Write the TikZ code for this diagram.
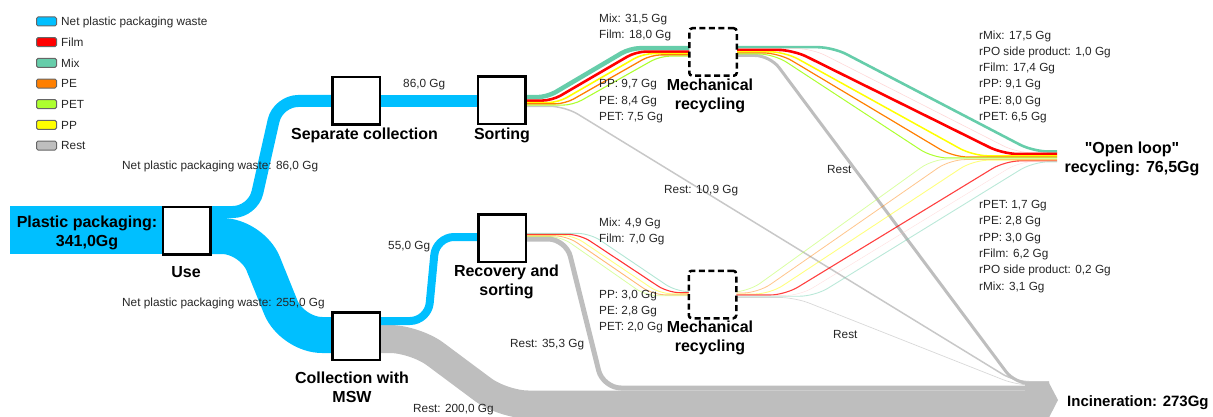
\documentclass[tikz,border=0pt]{standalone}
\usepackage{fontspec}
\setmainfont{Liberation Sans}[Ligatures=TeXOff]
\definecolor{cBlue}{RGB}{0,191,255}
\definecolor{cFilm}{RGB}{255,0,0}
\definecolor{cMix}{RGB}{102,205,170}
\definecolor{cPE}{RGB}{255,127,0}
\definecolor{cPET}{RGB}{173,255,47}
\definecolor{cPP}{RGB}{255,255,0}
\definecolor{cRest}{RGB}{190,190,190}
\definecolor{cPO}{RGB}{255,190,190}
\begin{document}
\begin{tikzpicture}[x=1pt,y=-1pt,
  box/.style={draw=black,line width=2.5pt,fill=white,minimum width=47.5pt,minimum height=47.5pt,inner sep=0pt},
  mechbox/.style={box,dash pattern=on 6pt off 3.5pt,rounded corners=3pt},
  big/.style={font=\fontsize{16}{19}\selectfont\bfseries,align=center,inner sep=0pt},
  bigbase/.style={font=\fontsize{16}{19}\selectfont\bfseries,inner sep=0pt,anchor=base,yshift=-5.7pt},
  small/.style={font=\fontsize{11.8}{16}\selectfont,text=black!85,inner sep=0pt,anchor=base west,yshift=-4.2pt},
  legsw/.style={draw=black!60,line width=1pt,rounded corners=1.5pt,minimum width=20pt,minimum height=9pt,inner sep=0pt},
  fl/.style={line cap=butt,line join=round,rounded corners=#1},
  fl/.default=15pt
]
\useasboundingbox (0,0) rectangle (1213,417);

% ---------- grey rest flows ----------
\draw[fl=25pt,cRest,line width=28pt] (356,339)--(415,339)--(503,404.5)--(1049,404.5);
\draw[fl=18pt,cRest,line width=5pt] (502,239)--(566,239)--(603,388)--(1049,388);
\fill[cRest] (1025,381)--(1048,381)--(1058,400)--(1048,419.5)--(1025,419.5)--cycle;
\draw[fl,cRest!85,line width=1.5pt] (501,106.3)--(565,106.3)--(1015,381.8)--(1049,381.8);
\draw[fl,cRest,line width=3pt] (713,55.5)--(770,55.5)--(1015,383.7)--(1049,383.7);
\draw[fl,cRest,opacity=0.6,line width=0.7pt] (713,297.5)--(795,297.5)--(1017,385.2)--(1049,385.2);

% ---------- blue flows ----------
\draw[cBlue,line width=48pt] (10,230)--(187,230);
\draw[fl=20pt,cBlue,line width=12pt] (187,212)--(253,212)--(278,101)--(356,101);
\draw[fl=30pt,cBlue,line width=36pt] (187,236)--(252,236)--(292,335)--(356,335);
\draw[cBlue,line width=12pt] (356,101)--(502,101);
\draw[fl=18pt,cBlue,line width=8pt] (356,321)--(428,321)--(436,237)--(502,237);

% ---------- sorting -> mechanical recycling (top) ----------
\draw[fl=10pt,cMix,line width=4.5pt] (501,97.2)--(547,97.2)--(630,48.2)--(713,48.2);
\draw[fl=10pt,cFilm,line width=2.6pt] (501,100.6)--(552,100.6)--(636,51.6)--(713,51.6);
\draw[fl=10pt,cPP,line width=1.6pt] (501,102.6)--(558,102.6)--(643,53.6)--(713,53.6);
\draw[fl=10pt,cPE,line width=1.3pt] (501,103.9)--(565,103.9)--(651,54.9)--(713,54.9);
\draw[fl=10pt,cPET,line width=1.1pt] (501,105.1)--(573,105.1)--(660,56.1)--(713,56.1);

% ---------- mechanical recycling (top) -> open loop ----------
\draw[fl,cMix,line width=2.6pt] (713,47.2)--(833,47.2)--(1033,151.5)--(1057,151.5);
\draw[fl,cPO,opacity=0.6,line width=0.6pt] (713,48.6)--(812,48.6)--(1017,152.8)--(1057,152.8);
\draw[fl,cFilm,line width=2.6pt] (713,49.9)--(793,49.9)--(1003,154)--(1057,154);
\draw[fl,cPP,line width=1.5pt] (713,51.8)--(785,51.8)--(973,155.8)--(1057,155.8);
\draw[fl,cPE,line width=1.2pt] (713,53)--(779,53)--(953,157)--(1057,157);
\draw[fl,cPET,line width=1pt] (713,54)--(774,54)--(933,158)--(1057,158);

% ---------- recovery -> mechanical recycling (bottom) ----------
\draw[fl=12pt,cMix,opacity=0.5,line width=0.9pt] (502,233.4)--(590,233.4)--(676,291.5)--(713,291.5);
\draw[fl=12pt,cFilm,opacity=0.8,line width=1.1pt] (502,234.4)--(580,234.4)--(668,292.7)--(713,292.7);
\draw[fl=12pt,cPP,opacity=0.5,line width=0.9pt] (502,235.2)--(573,235.2)--(660,293.8)--(713,293.8);
\draw[fl=12pt,cPE,opacity=0.55,line width=0.9pt] (502,235.9)--(567,235.9)--(653,294.8)--(713,294.8);
\draw[fl=12pt,cPET,opacity=0.45,line width=0.8pt] (502,236.5)--(561,236.5)--(646,295.8)--(713,295.8);

% ---------- mechanical recycling (bottom) -> open loop ----------
\draw[fl,cPET,opacity=0.45,line width=0.8pt] (713,292)--(748,292)--(933,159)--(1057,159);
\draw[fl,cPE,opacity=0.45,line width=0.8pt] (713,293)--(758,293)--(950,159.6)--(1057,159.6);
\draw[fl,cPP,opacity=0.5,line width=0.9pt] (713,294)--(770,294)--(973,160.2)--(1057,160.2);
\draw[fl,cFilm,opacity=0.75,line width=1.1pt] (713,295)--(785,295)--(1005,160.9)--(1057,160.9);
\draw[fl,cPO,opacity=0.5,line width=0.4pt] (713,295.6)--(800,295.6)--(1020,161.4)--(1057,161.4);
\draw[fl,cMix,opacity=0.45,line width=0.9pt] (713,296.2)--(815,296.2)--(1033,161.9)--(1057,161.9);

% ---------- process boxes ----------
\node[box] (use) at (186.5,230.5) {};
\node[box] (sepcol) at (356,101) {};
\node[box] (sorting) at (501.5,100.5) {};
\node[mechbox] (mechA) at (713,52) {};
\node[box] (msw) at (356,336) {};
\node[box] (recov) at (502,238) {};
\node[mechbox] (mechB) at (712.5,294.5) {};

% ---------- bold labels ----------
\node[bigbase] (lUse) at (186,272) {Use};
\node[bigbase] (lSep) at (364.5,134) {Separate collection};
\node[bigbase] (lSort) at (502,134) {Sorting};
\node[big] (lMechA) at (710,96) {Mechanical\\recycling};
\node[big] (lMsw) at (352,387) {Collection with\\MSW};
\node[big] (lRecov) at (506.5,281.5) {Recovery and\\sorting};
\node[big] (lMechB) at (710,338) {Mechanical\\recycling};
\node[big] (lIn) at (87,233) {Plastic packaging:\\341,0Gg};
\node[big] (lOpen) at (1132,159) {"Open loop"\\recycling: 76,5Gg};
\node[bigbase,anchor=base west,font=\fontsize{15}{19}\selectfont\bfseries] (lInc) at (1067,401) {Incineration: 273Gg};

% ---------- flow labels ----------
\node[small] (t1) at (122,165) {Net plastic packaging waste: 86,0 Gg};
\node[small] (t2) at (122,302) {Net plastic packaging waste: 255,0 Gg};
\node[small] (t3) at (403,83) {86,0 Gg};
\node[small] (t4) at (388,245) {55,0 Gg};
\node[small] (t5) at (599,18) {Mix: 31,5 Gg};
\node[small] (t6) at (599,34) {Film: 18,0 Gg};
\node[small] (t7) at (599,83) {PP: 9,7 Gg};
\node[small] (t8) at (599,100) {PE: 8,4 Gg};
\node[small] (t9) at (599,116) {PET: 7,5 Gg};
\node[small] (t10) at (664,189) {Rest: 10,9 Gg};
\node[small] (t11) at (827,169) {Rest};
\node[small] (t12) at (599,222) {Mix: 4,9 Gg};
\node[small] (t13) at (599,238) {Film: 7,0 Gg};
\node[small] (t14) at (599,294) {PP: 3,0 Gg};
\node[small] (t15) at (599,310) {PE: 2,8 Gg};
\node[small] (t16) at (599,326) {PET: 2,0 Gg};
\node[small] (t17) at (510,343) {Rest: 35,3 Gg};
\node[small] (t18) at (413,408) {Rest: 200,0 Gg};
\node[small] (t19) at (833,334) {Rest};
\node[small] (r1) at (979,35) {rMix: 17,5 Gg};
\node[small] (r2) at (979,51.5) {rPO side product: 1,0 Gg};
\node[small] (r3) at (979,67.5) {rFilm: 17,4 Gg};
\node[small] (r4) at (979,83.5) {rPP: 9,1 Gg};
\node[small] (r5) at (979,100) {rPE: 8,0 Gg};
\node[small] (r6) at (979,116) {rPET: 6,5 Gg};
\node[small] (s1) at (979,204) {rPET: 1,7 Gg};
\node[small] (s2) at (979,220.5) {rPE: 2,8 Gg};
\node[small] (s3) at (979,237) {rPP: 3,0 Gg};
\node[small] (s4) at (979,253) {rFilm: 6,2 Gg};
\node[small] (s5) at (979,269.5) {rPO side product: 0,2 Gg};
\node[small] (s6) at (979,286) {rMix: 3,1 Gg};

% ---------- legend ----------
\foreach \c/\t [count=\i from 0] in {cBlue/Net plastic packaging waste, cFilm/Film, cMix/Mix, cPE/PE, cPET/PET, cPP/PP, cRest/Rest} {
  \node[legsw,fill=\c] (lg\i) at (46.5,{21.5+20.67*\i}) {};
  \node[small] (lgt\i) at (61,{21.5+20.67*\i}) {\t};
}
\end{tikzpicture}
\end{document}
